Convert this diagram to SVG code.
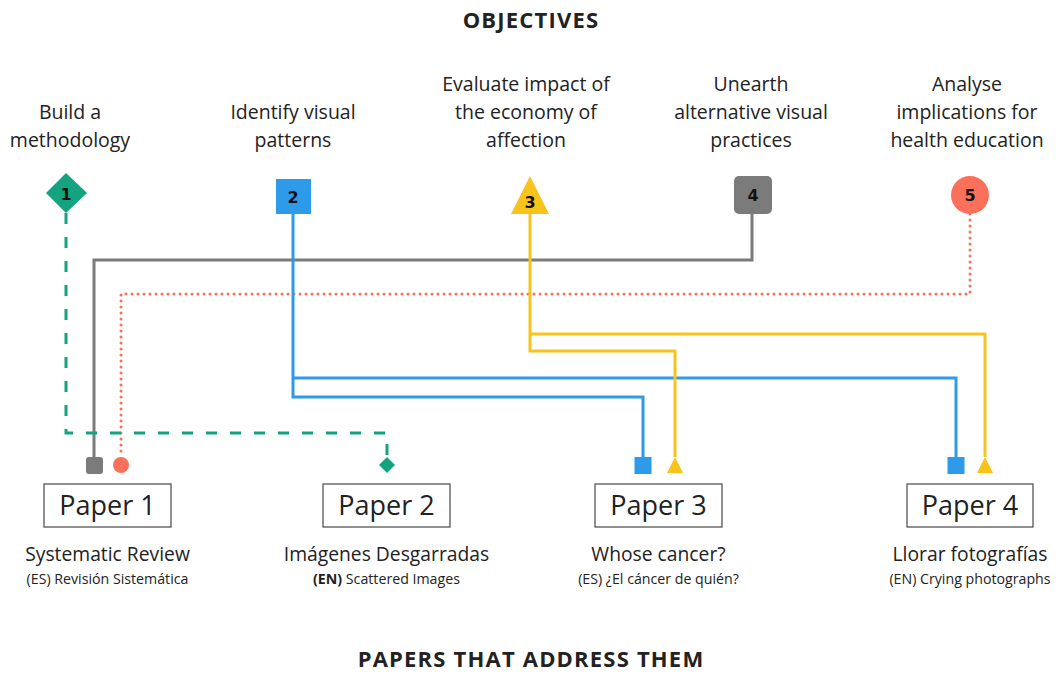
<svg xmlns="http://www.w3.org/2000/svg" width="1056" height="675" viewBox="0 0 1056 675">
<style>
text{font-family:"Open Sans","Noto Sans","Liberation Sans",sans-serif;fill:#222;text-anchor:middle}
.title{font-size:22px;font-weight:700;letter-spacing:1.2px}
.obj{font-size:19.5px}
.num{font-family:"DejaVu Sans","Liberation Sans",sans-serif;font-size:16px;font-weight:700;fill:#111}
.paper{font-size:27px}
.sub{font-size:19.3px}
.small{font-size:14.2px}
.box{fill:#fff;stroke:#555;stroke-width:1.3}
.ln{fill:none;stroke-width:3;stroke-linejoin:miter}
</style>
<rect width="1056" height="675" fill="#fff"/>
<text class="title" x="531" y="28">OBJECTIVES</text>
<text class="title" x="531" y="667">PAPERS THAT ADDRESS THEM</text>

<g id="connectors">
<path class="ln" d="M752,214 V260 H94 V457" stroke="#7b7b7b"/>
<path class="ln" d="M970,214 V294 H121 V457" stroke="#fb705a" stroke-width="2.5" stroke-dasharray="0 6" stroke-linecap="round"/>
<path class="ln" d="M66,213 V433 H387 V457" stroke="#13a47f" stroke-dasharray="11 13"/>
<path class="ln" d="M293,214 V397 H643 V457" stroke="#2e9bea"/>
<path class="ln" d="M293,378 H956 V457" stroke="#2e9bea"/>
<path class="ln" d="M530,214 V351 H675 V457" stroke="#f8c31a"/>
<path class="ln" d="M530,334 H985 V457" stroke="#f8c31a"/>
<rect x="86" y="457" width="17" height="17" rx="3" fill="#7b7b7b"/>
<circle cx="121" cy="465" r="8" fill="#fb705a"/>
<polygon points="387,457 395,465 387,473 379,465" fill="#13a47f"/>
<rect x="634.5" y="457" width="17" height="17" fill="#2e9bea"/>
<rect x="947.5" y="457" width="17" height="17" fill="#2e9bea"/>
<polygon points="675,457 683,473 667,473" fill="#f8c31a"/>
<polygon points="985,457 993,473 977,473" fill="#f8c31a"/>
</g>

<g id="obj1">
<text class="obj" x="70" y="119">Build a</text>
<text class="obj" x="70" y="147">methodology</text>
<polygon points="66,173 87,193 66,213 46,193" fill="#13a47f"/>
<text class="num" x="66" y="200">1</text>
</g>
<g id="obj2">
<text class="obj" x="293" y="119">Identify visual</text>
<text class="obj" x="293" y="147">patterns</text>
<rect x="276" y="179" width="35" height="35" fill="#2e9bea"/>
<text class="num" x="293" y="203">2</text>
</g>
<g id="obj3">
<text class="obj" x="526" y="91">Evaluate impact of</text>
<text class="obj" x="526" y="119">the economy of</text>
<text class="obj" x="526" y="147">affection</text>
<polygon points="530,176 549,214 511,214" fill="#f8c31a"/>
<text class="num" x="530" y="208">3</text>
</g>
<g id="obj4">
<text class="obj" x="751" y="91">Unearth</text>
<text class="obj" x="751" y="119">alternative visual</text>
<text class="obj" x="751" y="147">practices</text>
<rect x="734" y="176" width="38" height="38" rx="5" fill="#7b7b7b"/>
<text class="num" x="753" y="201">4</text>
</g>
<g id="obj5">
<text class="obj" x="967" y="91">Analyse</text>
<text class="obj" x="967" y="119">implications for</text>
<text class="obj" x="967" y="147">health education</text>
<circle cx="970" cy="195" r="19" fill="#fb705a"/>
<text class="num" x="970" y="201">5</text>
</g>

<g id="paper1">
<rect class="box" x="44" y="484" width="127" height="43"/>
<text class="paper" x="107.5" y="515">Paper 1</text>
<text class="sub" x="107.5" y="561">Systematic Review</text>
<text class="small" x="107.5" y="584">(ES) Revisión Sistemática</text>
</g>
<g id="paper2">
<rect class="box" x="323" y="484" width="127" height="43"/>
<text class="paper" x="386.5" y="515">Paper 2</text>
<text class="sub" x="386.5" y="561">Imágenes Desgarradas</text>
<text class="small" x="386.5" y="584"><tspan font-weight="700">(EN)</tspan> Scattered Images</text>
</g>
<g id="paper3">
<rect class="box" x="595" y="484" width="127" height="43"/>
<text class="paper" x="658.5" y="515">Paper 3</text>
<text class="sub" x="658.5" y="561">Whose cancer?</text>
<text class="small" x="658.5" y="584">(ES) ¿El cáncer de quién?</text>
</g>
<g id="paper4">
<rect class="box" x="907" y="484" width="126" height="43"/>
<text class="paper" x="970" y="515">Paper 4</text>
<text class="sub" x="970" y="561">Llorar fotografías</text>
<text class="small" x="970" y="584">(EN) Crying photographs</text>
</g>
</svg>
